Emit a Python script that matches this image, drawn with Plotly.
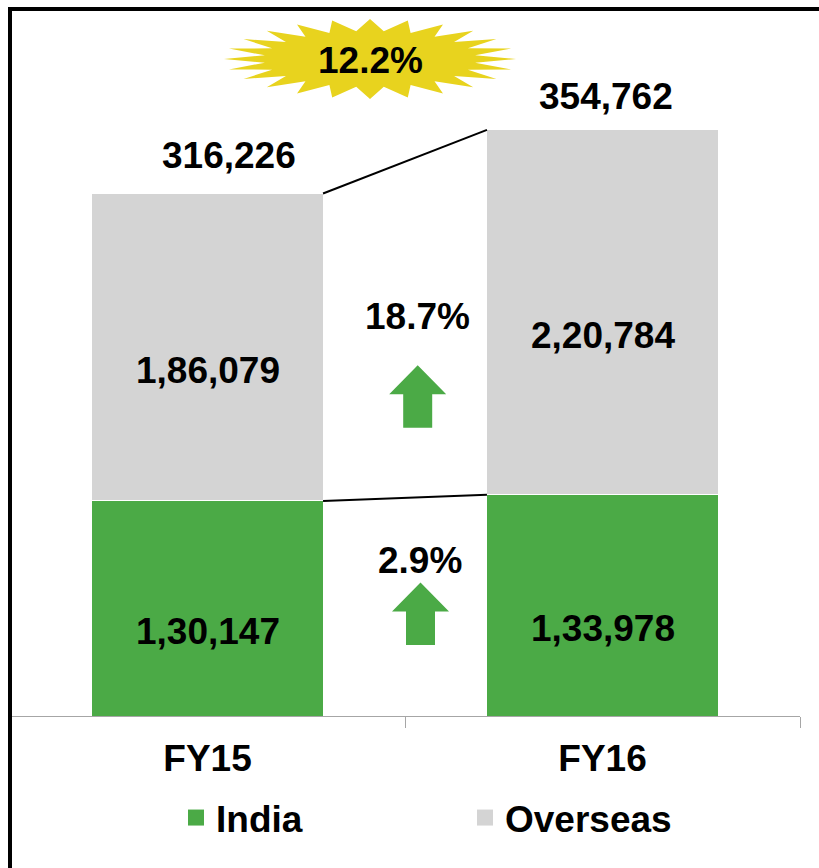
import math
import plotly.graph_objects as go

# Revenue split by geography
years = ["FY15", "FY16"]
india = [130147, 133978]
overseas = [186079, 220784]
totals = [316226, 354762]

GREEN = "#4BAA46"
GREY = "#D4D4D4"
GOLD = "#E8D31E"
FONT = "Liberation Sans, Arial, sans-serif"
FONT_SIZE = 37
BAR_W = 0.585

W, H = 819, 868
M_L, M_R, M_T, M_B = 10, 19, 10, 152
PLOT_W = W - M_L - M_R
PLOT_H = H - M_T - M_B
Y_MAX = 427300


def indian_fmt(n):
    s = str(n)
    head, tail = s[:-3], s[-3:]
    groups = []
    while len(head) > 2:
        groups.insert(0, head[-2:])
        head = head[:-2]
    if head:
        groups.insert(0, head)
    return ",".join(groups + [tail])


def px_x(px):
    return (px - M_L) / PLOT_W


def px_y(py):
    return (H - M_B - py) / PLOT_H


def arrow_path():
    pts = [(-14.5, 0), (14.5, 0), (14.5, 33.5), (28.5, 33.5), (0, 62.5),
           (-28.5, 33.5), (-14.5, 33.5)]
    return "M" + "L".join(f"{x},{y}" for x, y in pts) + "Z"


def star_path(n=24, rx_out=146, ry_out=40, rx_in=106, ry_in=28):
    pts = []
    for i in range(2 * n):
        a = math.pi * i / n
        rx, ry = (rx_out, ry_out) if i % 2 == 0 else (rx_in, ry_in)
        pts.append((rx * math.cos(a), ry * math.sin(a)))
    return "M" + "L".join(f"{x:.1f},{y:.1f}" for x, y in pts) + "Z"


growth_total = (totals[1] / totals[0] - 1) * 100
growth_overseas = (overseas[1] / overseas[0] - 1) * 100
growth_india = (india[1] / india[0] - 1) * 100

label_font = dict(family=FONT, size=FONT_SIZE, color="black", weight="bold")

fig = go.Figure()
fig.add_trace(go.Bar(
    x=years, y=india, name="India", width=BAR_W, showlegend=False,
    marker=dict(color=GREEN, line=dict(color="white", width=1)),
    hoverinfo="skip",
))
fig.add_trace(go.Bar(
    x=years, y=overseas, name="Overseas", width=BAR_W, showlegend=False,
    marker=dict(color=GREY, line=dict(color="white", width=1)),
    hoverinfo="skip",
))
# legend keys with a larger square swatch
for name, color in (("India", GREEN), ("Overseas", GREY)):
    fig.add_trace(go.Scatter(
        x=[None], y=[None], mode="markers", name=name,
        marker=dict(symbol="square", size=16, color=color),
    ))

annotations = []

# segment values
for i, yr in enumerate(years):
    annotations.append(dict(x=yr, y=india[i] / 2, text=indian_fmt(india[i]),
                            showarrow=False, yshift=-23, font=label_font))
    annotations.append(dict(x=yr, y=india[i] + overseas[i] / 2,
                            text=indian_fmt(overseas[i]),
                            showarrow=False, yshift=-23, font=label_font))

# totals above the stacks
total_xshift = [21, 3]
total_yshift = [38, 33]
for i, yr in enumerate(years):
    annotations.append(dict(x=yr, y=totals[i], text=f"{totals[i]:,}",
                            showarrow=False, xshift=total_xshift[i],
                            yshift=total_yshift[i], font=label_font))

# growth figures
for text, cx, cy in ((f"{growth_total:.1f}%", 370, 60),
                     (f"{growth_overseas:.1f}%", 417, 316),
                     (f"{growth_india:.1f}%", 420, 560)):
    annotations.append(dict(xref="paper", yref="paper", x=px_x(cx),
                            y=px_y(cy), xanchor="center", yanchor="middle",
                            text=text, showarrow=False, font=label_font))

half = BAR_W / 2
shapes = [
    # connectors between the stacks
    dict(type="line", xref="x", yref="y", x0=half, x1=1 - half,
         y0=totals[0], y1=totals[1], line=dict(color="black", width=2)),
    dict(type="line", xref="x", yref="y", x0=half, x1=1 - half,
         y0=india[0], y1=india[1], line=dict(color="black", width=2)),
    # frame
    dict(type="line", xref="paper", yref="paper", x0=0, x1=0,
         y0=-M_B / PLOT_H - 0.01, y1=1 + 2 / PLOT_H,
         line=dict(color="black", width=4)),
    dict(type="line", xref="paper", yref="paper", x0=-2 / PLOT_W,
         x1=(W - M_L + 5) / PLOT_W, y0=1 + 1 / PLOT_H, y1=1 + 1 / PLOT_H,
         line=dict(color="black", width=4)),
    # starburst behind the overall growth
    dict(type="path", xref="paper", yref="paper", xsizemode="pixel",
         ysizemode="pixel", xanchor=px_x(370), yanchor=px_y(59),
         path=star_path(), fillcolor=GOLD, line=dict(width=0), layer="below"),
    # up arrows
    dict(type="path", xref="paper", yref="paper", xsizemode="pixel",
         ysizemode="pixel", xanchor=px_x(417.7), yanchor=px_y(427.7),
         path=arrow_path(), fillcolor=GREEN, line=dict(width=0)),
    dict(type="path", xref="paper", yref="paper", xsizemode="pixel",
         ysizemode="pixel", xanchor=px_x(420.5), yanchor=px_y(645),
         path=arrow_path(), fillcolor=GREEN, line=dict(width=0)),
]

fig.update_layout(
    barmode="stack",
    width=W, height=H,
    margin=dict(l=M_L, r=M_R, t=M_T, b=M_B, autoexpand=False),
    paper_bgcolor="white", plot_bgcolor="white",
    font=dict(family=FONT, color="black"),
    showlegend=True,
    legend=dict(orientation="h", x=px_x(176), xanchor="left",
                y=px_y(818), yanchor="middle", entrywidth=244,
                font=dict(family=FONT, size=FONT_SIZE, color="black",
                          weight="bold"),
                itemsizing="trace",
                traceorder="normal", bgcolor="rgba(0,0,0,0)"),
    xaxis=dict(range=[-0.5, 1.5], showline=True, linecolor="#A6A6A6",
               linewidth=1, ticks="outside", tickson="boundaries",
               ticklen=11, tickcolor="#A6A6A6", ticklabelstandoff=10,
               tickfont=dict(family=FONT, size=FONT_SIZE, color="black",
                             weight="bold"),
               showgrid=False, zeroline=False, fixedrange=True),
    yaxis=dict(range=[0, Y_MAX], visible=False, fixedrange=True),
    annotations=annotations,
    shapes=shapes,
)

fig.write_html("out.html")
